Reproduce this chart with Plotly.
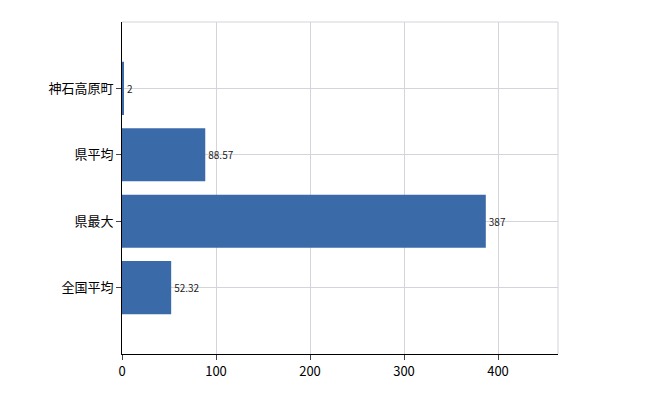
import plotly.graph_objects as go

categories = ["神石高原町", "県平均", "県最大", "全国平均"]
values = [2, 88.57, 387, 52.32]
labels = ["2", "88.57", "387", "52.32"]

fig = go.Figure(go.Bar(
    x=values, y=categories, orientation="h", width=0.8,
    marker=dict(color="#3a6aa8", line=dict(width=0)),
    text=labels, textposition="outside", cliponaxis=False,
    textfont=dict(size=10, color="#222", family="Noto Sans CJK JP"),
))
fig.update_layout(
    width=650, height=400, margin=dict(l=114, r=100, t=14, b=54),
    plot_bgcolor="white", paper_bgcolor="white", showlegend=False,
    font=dict(family="Noto Sans CJK JP", size=13, color="#000"),
    xaxis=dict(range=[0, 463.8], tickvals=[0, 100, 200, 300, 400],
               showgrid=True, gridcolor="#d4d4dc", gridwidth=1,
               showline=True, linecolor="black", ticks="outside", ticklen=5,
               zeroline=False),
    yaxis=dict(categoryorder="array", categoryarray=categories, autorange=False,
               range=[4, -1],
               showgrid=True, gridcolor="#d4d4dc",
               showline=True, linecolor="black", ticks="outside", ticklen=5),
)
fig.add_shape(type="line", xref="paper", yref="paper", x0=1, x1=1, y0=0, y1=1,
              line=dict(color="#d4d4dc", width=1), layer="below")
fig.add_shape(type="line", xref="paper", yref="paper", x0=0, x1=1, y0=1, y1=1,
              line=dict(color="#d4d4dc", width=1), layer="below")
fig.write_html("out.html")
